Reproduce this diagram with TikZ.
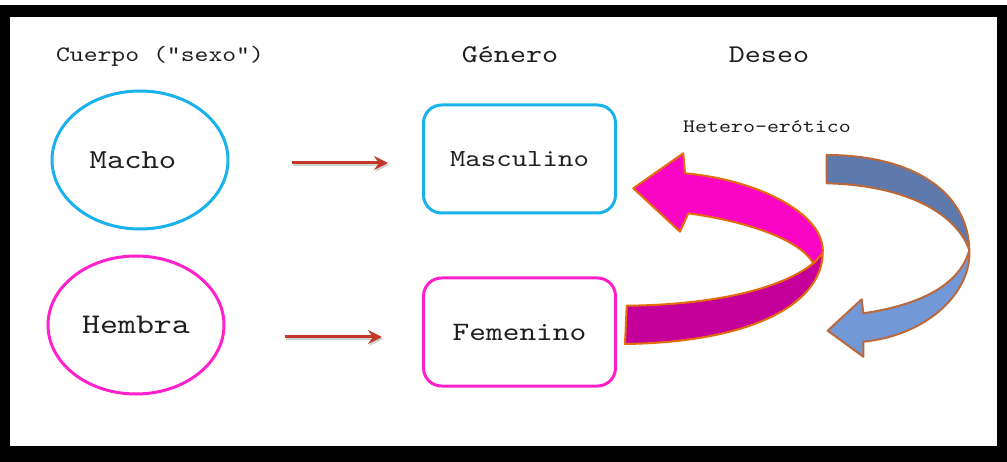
\documentclass[tikz,border=0pt]{standalone}
\usepackage{fontspec}
\setmainfont{lmmono10-regular.otf}[FakeStretch=1.2]
\usetikzlibrary{shapes.geometric,arrows.meta}
\definecolor{cyanline}{HTML}{1AB2EA}
\definecolor{magline}{HTML}{FF22CC}
\definecolor{redarrow}{HTML}{C0392B}
\definecolor{magbright}{HTML}{F806C4}
\definecolor{magdark}{HTML}{C5009A}
\definecolor{orangeline}{HTML}{E46C0A}
\definecolor{bluedark}{HTML}{5E79AB}
\definecolor{bluelight}{HTML}{7398D8}
\definecolor{brownline}{HTML}{B9693C}
\begin{document}
\begin{tikzpicture}[x=1pt,y=-1pt,
  lbl/.style={font=\fontsize{#1}{#1}\selectfont, text=black!88, inner sep=0pt},
  hdr/.style={lbl=#1, anchor=base},
  ovalbox/.style={ellipse, draw=#1, line width=3pt, minimum width=176pt, minimum height=138pt},
  roundbox/.style={draw=#1, line width=3pt, rounded corners=18pt, minimum width=192pt, minimum height=108pt},
  redarr/.style={draw=redarrow, line width=3pt, -{Stealth[length=14pt,width=14pt,inset=5pt]}},
  redshadow/.style={draw=black!18, line width=3pt, -{Stealth[length=14pt,width=14pt,inset=5pt]}, transform canvas={shift={(1pt,-2pt)}}},
  magribbon/.style={fill=#1, draw=orangeline, line width=2pt, line join=round},
  blueribbon/.style={fill=#1, draw=brownline, line width=2pt, line join=round}
]
\useasboundingbox (0,0) rectangle (1007,462);
\fill[white] (0,0) rectangle (1007,462);
\fill[black] (0,5) rectangle (1007,462);
\fill[white] (10,17) rectangle (997,446);

% headers
\node[hdr=22] (hcuerpo) at (160,62) {Cuerpo (“sexo”)};
\node[hdr=25.5] (hgenero) at (510,63) {Género};
\node[hdr=25.5] (hdeseo) at (769,63) {Deseo};
\node[hdr=19] (hhetero) at (767,133) {Hetero-erótico};

% shapes
\node[ovalbox=cyanline, lbl=27.5] (macho) at (140,160) {\kern-14pt Macho};
\node[ovalbox=magline, lbl=28.5] (hembra) at (136,325) {Hembra};
\node[roundbox=cyanline, lbl=24.5] (masc) at (519.5,159) {Masculino};
\node[roundbox=magline, lbl=26.5] (fem) at (519.5,332) {Femenino};

% red arrows
\coordinate (r1s) at (292,163);
\coordinate (r1e) at (388,163);
\coordinate (r2s) at (285,337);
\coordinate (r2e) at (382,337);
\draw[redshadow] (r1s) -- (r1e);
\draw[redshadow] (r2s) -- (r2e);
\draw[redarr] (r1s) -- (r1e);
\draw[redarr] (r2s) -- (r2e);

% magenta curved arrow
\path[magribbon=magdark]
  (626.7,305.7) .. controls (710,305) and (780,290) .. (813.3,263.3)
  -- (822.7,253.3) .. controls (822,300) and (760,342) .. (625,344) -- cycle;
\path[magribbon=magbright]
  (813.3,263.3) -- (822.7,253.3) .. controls (826,215) and (760,180) .. (685,173.3)
  -- (683.3,153.3) -- (633.3,188.3) -- (680,231.7) -- (688.3,213.3)
  .. controls (750,222) and (800,240) .. (813.3,263.3) -- cycle;

% blue curved arrow
\path[blueribbon=bluedark]
  (826.7,155) .. controls (910,155) and (968,190) .. (969.3,250)
  .. controls (955,210) and (900,185) .. (826.7,183.3) -- cycle;
\path[blueribbon=bluelight]
  (969.3,250) .. controls (972,290) and (930,335) .. (863.3,341.7)
  -- (863.3,356.7) -- (827.7,330.7) -- (861.7,299.3) -- (863.3,313.3)
  .. controls (920,305) and (960,285) .. (969.3,250) -- cycle;
\end{tikzpicture}
\end{document}
